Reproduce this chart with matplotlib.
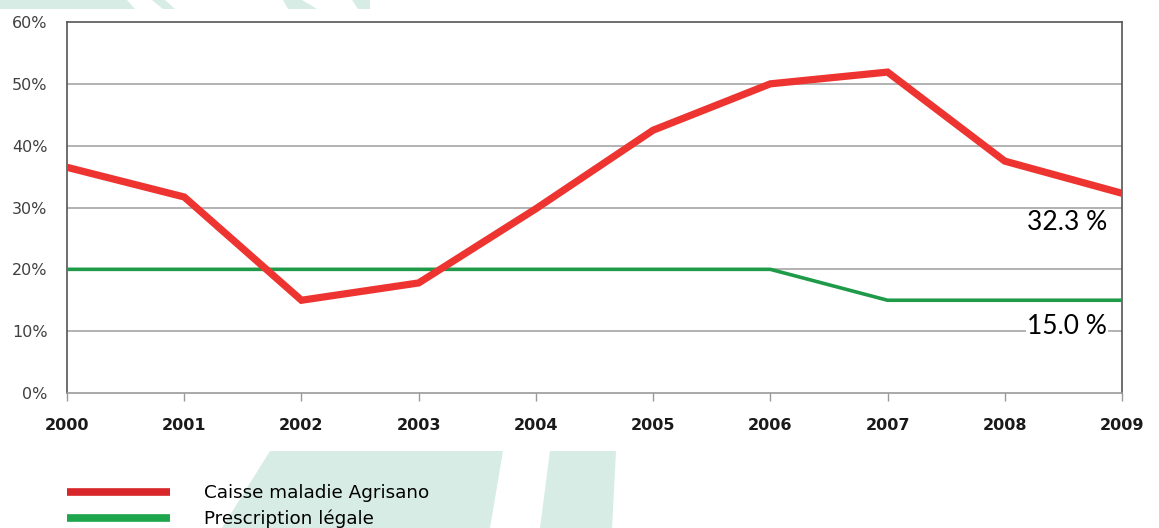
import matplotlib
matplotlib.use("Agg")
import matplotlib.pyplot as plt
from matplotlib.patches import Polygon
from matplotlib.lines import Line2D

years = [2000, 2001, 2002, 2003, 2004, 2005, 2006, 2007, 2008, 2009]
agrisano = [36.5, 31.7, 15.0, 17.8, 29.8, 42.5, 50.0, 51.9, 37.5, 32.3]
legal = [20, 20, 20, 20, 20, 20, 20, 15, 15, 15]
yticks = [0, 10, 20, 30, 40, 50, 60]
names = ["Caisse maladie Agrisano", "Prescription légale"]

W, H = 1159, 528
fig = plt.figure(figsize=(W / 100, H / 100), dpi=100)

# background watermark stripes (pixel coords, top-left origin)
teal = "#d6ece4"
shapes = [
    [(0, 0), (127, 0), (135, 9), (0, 9)],
    [(152, 0), (165, 0), (175, 9), (163, 9)],
    [(283, 0), (302, 0), (317, 9), (288, 9)],
    [(352, 0), (370, 0), (370, 9), (358, 9)],
    [(270, 451), (503, 451), (490, 528), (222, 528)],
    [(550, 451), (616, 451), (612, 528), (540, 528)],
]
for s in shapes:
    pts = [(x / W, 1 - y / H) for x, y in s]
    fig.patches.append(Polygon(pts, closed=True, transform=fig.transFigure,
                               facecolor=teal, edgecolor="none", zorder=0))

ax = fig.add_axes([67 / W, 1 - 393 / H, (1122 - 67) / W, (393 - 22) / H])
ax.set_facecolor("white")
ax.set_xlim(2000, 2009)
ax.set_ylim(0, 60)

for v in yticks[1:-1]:
    ax.axhline(v, color="#a6a6a6", lw=1.2, zorder=1)

ax.plot(years, legal, color="#1e9a48", lw=2.6, zorder=3, solid_capstyle="butt")
ax.plot(years, agrisano, color="#ee3430", lw=5.2, zorder=4,
        solid_joinstyle="miter", solid_capstyle="butt")

ax.set_yticks(yticks)
ax.set_yticklabels([f"{v}%" for v in yticks], fontsize=11.5, color="#404040")
ax.tick_params(axis="y", length=0, pad=14)
ax.set_xticks(years)
ax.set_xticklabels([str(y) for y in years], fontsize=11.5, fontweight="bold",
                   color="#1a1a1a")
ax.tick_params(axis="x", length=6, width=1, color="#999999", pad=12)

for side in ["top", "left", "right"]:
    ax.spines[side].set_color("#555555")
    ax.spines[side].set_linewidth(1.2)
ax.spines["bottom"].set_color("#999999")
ax.spines["bottom"].set_linewidth(1.2)

ax.text(2008.87, 27.6, "32.3 %", ha="right", va="center", fontsize=19,
        family="Lato", color="black", zorder=5)
ax.text(2008.87, 10.7, "15.0 %", ha="right", va="center", fontsize=19,
        family="Lato", color="black", zorder=5,
        bbox=dict(facecolor="white", edgecolor="none", pad=0.5))

handles = [Line2D([], [], color="#d9262b", lw=5.5, solid_capstyle="butt"),
           Line2D([], [], color="#1ea64c", lw=5.5, solid_capstyle="butt")]
fig.legend(handles, names, loc="upper left",
           bbox_to_anchor=(67 / W, 1 - 484 / H), frameon=False,
           fontsize=13.2, handlelength=5.6, handletextpad=1.85,
           labelspacing=0.42, borderpad=0, borderaxespad=0)

fig.savefig("out.png", dpi=100)
